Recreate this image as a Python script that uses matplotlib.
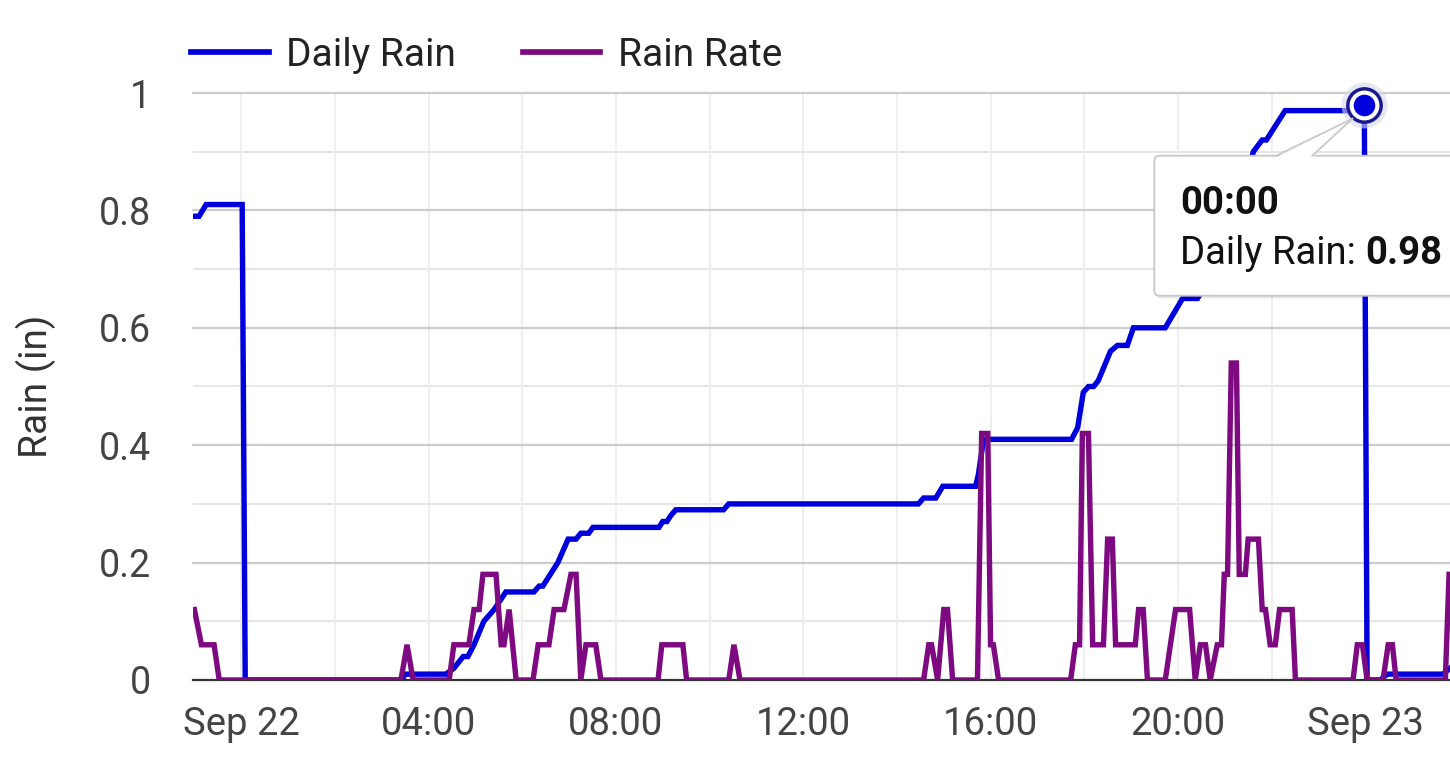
import numpy as np
import matplotlib
matplotlib.use("Agg")
import matplotlib.pyplot as plt
from matplotlib.patches import FancyBboxPatch, Polygon
from matplotlib.lines import Line2D
from matplotlib.transforms import IdentityTransform

plt.rcParams['font.family'] = ['Roboto', 'DejaVu Sans']

# hours after Sep 22 00:00
rain_hours = [-1.00, -0.90, -0.75, 0.02, 0.085, 3.43, 3.50, 4.37, 4.54, 4.74, 4.84, 4.97,
              5.18, 5.40, 5.65, 6.25, 6.36, 6.44, 6.76, 6.98, 7.15, 7.25, 7.42, 7.51,
              8.92, 9.00, 9.09, 9.17, 9.28, 10.30, 10.41, 14.46, 14.57, 14.83, 14.98,
              15.68, 15.74, 15.85, 17.73, 17.86, 17.98, 18.09, 18.20, 18.30, 18.56,
              18.71, 18.92, 19.05, 19.73, 20.10, 20.42, 20.80, 21.33, 21.61, 21.80,
              21.89, 22.29, 23.68, 23.98, 24.04, 24.32, 24.47, 25.66, 25.81]
daily_rain = [0.79, 0.79, 0.81, 0.81, 0.0, 0.0, 0.01, 0.01, 0.02, 0.04, 0.04, 0.06,
              0.10, 0.12, 0.15, 0.15, 0.16, 0.16, 0.20, 0.24, 0.24, 0.25, 0.25, 0.26,
              0.26, 0.27, 0.27, 0.28, 0.29, 0.29, 0.30, 0.30, 0.31, 0.31, 0.33,
              0.33, 0.35, 0.41, 0.41, 0.43, 0.49, 0.50, 0.50, 0.51, 0.56,
              0.57, 0.57, 0.60, 0.60, 0.65, 0.65, 0.70, 0.80, 0.90, 0.92,
              0.92, 0.97, 0.97, 0.98, 0.0, 0.0, 0.01, 0.01, 0.02]

rate_hours = [-1.00, -0.85, -0.58, -0.47, 3.41, 3.54, 3.67, 4.44, 4.54, 4.86, 4.97, 5.08,
              5.16, 5.44, 5.55, 5.61, 5.72, 5.87, 6.23, 6.34, 6.57, 6.68, 6.89, 7.04,
              7.15, 7.25, 7.36, 7.57, 7.68, 8.90, 8.98, 9.43, 9.51, 10.41, 10.52, 10.65,
              14.57, 14.68, 14.74, 14.87, 15.00, 15.08, 15.19, 15.72, 15.81, 15.94,
              16.00, 16.06, 16.17, 17.71, 17.81, 17.90, 17.96, 18.09, 18.18, 18.41,
              18.50, 18.60, 18.67, 19.09, 19.16, 19.26, 19.35, 19.73, 19.84, 19.95,
              20.25, 20.37, 20.48, 20.59, 20.69, 20.84, 20.93, 20.99, 21.06, 21.14,
              21.25, 21.31, 21.44, 21.50, 21.72, 21.80, 21.87, 21.97, 22.08, 22.17,
              22.44, 22.51, 23.74, 23.83, 23.94, 24.04, 24.38, 24.49, 24.58, 24.66,
              25.71, 25.79]
rain_rate = [0.12, 0.06, 0.06, 0.0, 0.0, 0.06, 0.0, 0.0, 0.06, 0.06, 0.12, 0.12,
             0.18, 0.18, 0.06, 0.06, 0.12, 0.0, 0.0, 0.06, 0.06, 0.12, 0.12, 0.18,
             0.18, 0.0, 0.06, 0.06, 0.0, 0.0, 0.06, 0.06, 0.0, 0.0, 0.06, 0.0,
             0.0, 0.06, 0.06, 0.0, 0.12, 0.12, 0.0, 0.0, 0.42, 0.42,
             0.06, 0.06, 0.0, 0.0, 0.06, 0.06, 0.42, 0.42, 0.06, 0.06,
             0.24, 0.24, 0.06, 0.06, 0.12, 0.12, 0.0, 0.0, 0.06, 0.12,
             0.12, 0.0, 0.06, 0.06, 0.0, 0.06, 0.06, 0.18, 0.18, 0.54,
             0.54, 0.18, 0.18, 0.24, 0.24, 0.12, 0.12, 0.06, 0.06, 0.12,
             0.12, 0.0, 0.0, 0.06, 0.06, 0.0, 0.0, 0.06, 0.06, 0.0,
             0.0, 0.18]

tick_hours = [0, 4, 8, 12, 16, 20, 24]
tick_labels = ['Sep 22', '04:00', '08:00', '12:00', '16:00', '20:00', 'Sep 23']
y_ticks = [0, 0.2, 0.4, 0.6, 0.8, 1.0]
y_labels = ['0', '0.2', '0.4', '0.6', '0.8', '1']

tip_hour = 23.98
tip_value = 0.98

blue = '#0000dd'
purple = '#7d0a80'

fig = plt.figure(figsize=(14.5, 7.67), dpi=100)
ax = fig.add_axes([193/1450, 1 - 680/767, 1 - 193/1450, (680 - 93)/767])

ax.plot(rain_hours, daily_rain, color=blue, lw=3.9, solid_joinstyle='miter', zorder=3, label='Daily Rain')
ax.plot(rate_hours, rain_rate, color=purple, lw=3.9, solid_joinstyle='miter', zorder=4, label='Rain Rate')

ax.set_xlim(-1.03, 25.81)
ax.set_ylim(0, 1)

# grid
for y in np.arange(0.1, 1.0, 0.2):
    ax.axhline(y, color='#e6e6e6', lw=1.4, zorder=0)
for y in y_ticks[1:]:
    ax.axhline(y, color='#cccccc', lw=1.6, zorder=1, clip_on=False)
for h in range(0, 26, 2):
    ax.axvline(h, color='#efefef', lw=1.4, zorder=0)
ax.axhline(0, color='#333333', lw=1.6, zorder=2, clip_on=False)

for s in ax.spines.values():
    s.set_visible(False)

ax.set_xticks(tick_hours)
ax.set_xticklabels(tick_labels)
ax.set_yticks(y_ticks)
ax.set_yticklabels(y_labels)
ax.tick_params(axis='x', length=0, pad=19, labelsize=27.5, labelcolor='#444444')
ax.tick_params(axis='y', length=0, pad=30, labelsize=27, labelcolor='#444444')

fig.text(36/1450, 1 - 386/767, 'Rain (in)', rotation=90, ha='center', va='center',
         fontsize=28, color='#333333')

leg = fig.legend(handles=[Line2D([], [], color=blue, lw=4.1), Line2D([], [], color=purple, lw=4.1)],
                 labels=['Daily Rain', 'Rain Rate'], loc='center left',
                 bbox_to_anchor=(191/1450, 1 - 55/767), ncol=2, frameon=False,
                 fontsize=28, handlelength=2.0, handletextpad=0.44, columnspacing=1.72,
                 borderpad=0, borderaxespad=0)
for t in leg.get_texts():
    t.set_color('#222222')

# highlighted point
ax.plot([tip_hour], [tip_value], 'o', ms=33, color='#d8d8ee', alpha=0.6, mew=0, zorder=6, clip_on=False)
ax.plot([tip_hour], [tip_value], 'o', ms=26.5, color='#1a1a90', mew=0, zorder=7, clip_on=False)
ax.plot([tip_hour], [tip_value], 'o', ms=21.5, color='white', mew=0, zorder=8, clip_on=False)
ax.plot([tip_hour], [tip_value], 'o', ms=15.5, color=blue, mew=0, zorder=9, clip_on=False)

# tooltip in display pixels relative to point
px, py = ax.transData.transform((tip_hour, tip_value))
ident = IdentityTransform()
bx0, bx1 = px - 210, px + 120
by0, by1 = py - 191, py - 51
shadow = FancyBboxPatch((bx0 + 2, by0 - 3), bx1 - bx0, by1 - by0,
                        boxstyle='round,pad=0,rounding_size=5', transform=ident,
                        facecolor=(0, 0, 0, 0.07), edgecolor='none', zorder=20)
box = FancyBboxPatch((bx0, by0), bx1 - bx0, by1 - by0,
                     boxstyle='round,pad=0,rounding_size=5', transform=ident,
                     facecolor='white', edgecolor='#c8c8c8', lw=1.3, zorder=21)
fig.add_artist(shadow)
fig.add_artist(box)
tri = Polygon([(px - 88, by1 - 2), (px - 12, py - 14), (px - 52, by1 - 2)], closed=True,
              transform=ident, facecolor='white', edgecolor='none', zorder=22)
fig.add_artist(tri)
for x_base in (px - 88, px - 52):
    fig.add_artist(Line2D([x_base, px - 12], [by1, py - 14], transform=ident,
                          color='#c8c8c8', lw=1.3, zorder=23))

fig.text(px - 184, py - 109, '00:00', transform=ident, fontsize=27.5, fontweight='bold',
         color='#111111', ha='left', va='baseline', zorder=24)
lab = fig.text(px - 184, py - 159, 'Daily Rain: ', transform=ident, fontsize=27.5,
               color='#111111', ha='left', va='baseline', zorder=24)
renderer = fig.canvas.get_renderer()
ext = lab.get_window_extent(renderer)
fig.text(ext.x1, py - 159, f'{tip_value:.2f}', transform=ident, fontsize=27.5, fontweight='bold',
         color='#111111', ha='left', va='baseline', zorder=24)

fig.savefig('out.png', dpi=100)
